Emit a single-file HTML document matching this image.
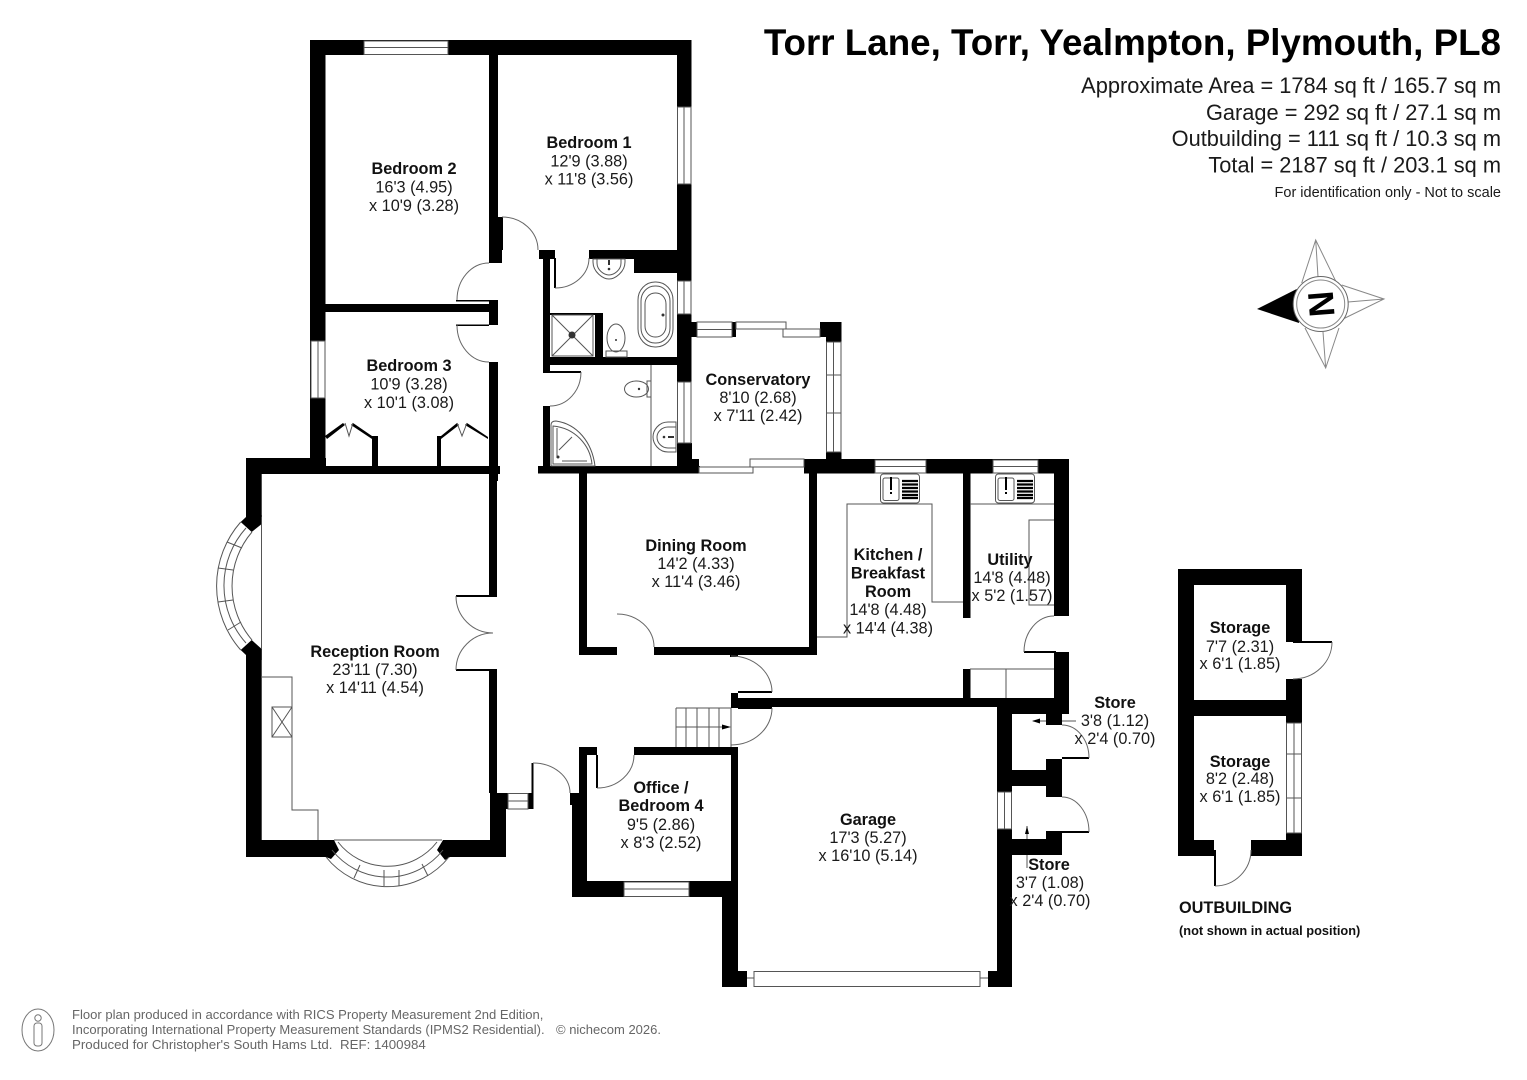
<!DOCTYPE html>
<html><head><meta charset="utf-8"><style>
html,body{margin:0;padding:0;background:#fff}
svg{display:block}
text{font-family:"Liberation Sans",sans-serif;fill:#1a1a1a;font-size:16.3px;text-anchor:middle}
.b{font-weight:bold;fill:#111}
.h{font-size:21.8px;text-anchor:end}
.f{font-size:13px;fill:#666;text-anchor:start}
.w{fill:#fff;stroke:#555;stroke-width:1}
.l{fill:none;stroke:#555;stroke-width:1}
.d{fill:none;stroke:#666;stroke-width:1}
</style></head><body>
<svg width="1527" height="1080" viewBox="0 0 1527 1080" xmlns="http://www.w3.org/2000/svg">
<rect width="1527" height="1080" fill="#fff"/>
<!-- walls -->
<g fill="#000">
<rect x="310" y="40" width="381" height="15"/>
<rect x="310" y="40" width="15.500" height="434"/>
<rect x="489" y="55" width="9" height="208"/>
<rect x="498" y="217" width="4" height="38"/>
<rect x="489" y="250" width="13" height="13"/>
<rect x="677" y="40" width="14.500" height="420"/>
<rect x="325" y="304" width="173" height="8"/>
<rect x="489" y="300" width="9" height="25"/>
<rect x="489" y="362" width="9" height="119"/>
<rect x="246" y="458" width="80" height="16"/>
<rect x="325" y="466" width="175" height="8"/>
<rect x="539" y="250" width="16" height="9"/>
<rect x="589" y="250" width="88" height="9"/>
<rect x="634" y="250" width="43" height="23"/>
<rect x="543" y="255" width="7" height="118"/>
<rect x="550" y="357" width="127" height="8"/>
<rect x="595" y="313" width="8" height="44"/>
<rect x="550" y="313" width="53" height="2"/>
<rect x="543" y="406" width="7" height="60"/>
<rect x="538" y="466" width="162" height="7.500"/>
<rect x="677" y="443" width="15" height="23"/>
<rect x="688" y="459" width="11" height="14"/>
<rect x="691" y="322" width="6" height="15"/>
<rect x="732" y="322" width="4" height="15"/>
<rect x="820" y="322" width="21.500" height="15"/>
<rect x="826" y="337" width="15.500" height="5"/>
<rect x="826" y="452" width="15.500" height="8"/>
<rect x="804" y="459" width="265" height="14.500"/>
<rect x="1054" y="459" width="15" height="157"/>
<rect x="963" y="473" width="7.500" height="145"/>
<rect x="809" y="473" width="8" height="182"/>
<rect x="579" y="473" width="8" height="182"/>
<rect x="579" y="647" width="38" height="8"/>
<rect x="654" y="647" width="163" height="8"/>
<rect x="730" y="647" width="8" height="10"/>
<rect x="1054" y="652" width="15" height="62"/>
<rect x="1024" y="651" width="32" height="2"/>
<rect x="963" y="669" width="7.500" height="30"/>
<rect x="733" y="698" width="264" height="9"/>
<rect x="997" y="698" width="72" height="16"/>
<rect x="997" y="698" width="15" height="289"/>
<rect x="1046" y="714" width="16" height="11"/>
<rect x="1046" y="759" width="16" height="38"/>
<rect x="1012" y="770" width="50" height="16"/>
<rect x="1046" y="831" width="16" height="24"/>
<rect x="1012" y="839" width="50" height="16"/>
<rect x="1062" y="757" width="27" height="2"/>
<rect x="1062" y="831" width="27" height="2"/>
<rect x="731" y="693" width="7" height="15"/>
<rect x="731" y="747" width="7" height="140"/>
<rect x="738" y="691" width="34" height="2"/>
<rect x="738" y="707" width="34" height="2"/>
<rect x="634" y="747" width="104" height="8"/>
<rect x="579" y="747" width="18" height="8"/>
<rect x="579" y="747" width="8" height="150"/>
<rect x="572" y="805" width="15" height="92"/>
<rect x="570" y="793" width="17" height="12"/>
<rect x="596" y="755" width="2" height="33"/>
<rect x="572" y="881" width="166" height="16"/>
<rect x="722" y="881" width="16" height="106"/>
<rect x="722" y="971" width="25" height="16"/>
<rect x="988" y="971" width="24" height="16"/>
<rect x="246" y="458" width="15.700" height="59"/>
<rect x="246" y="649" width="15.700" height="208"/>
<rect x="261" y="840" width="60" height="17"/>
<rect x="455" y="840" width="51" height="17"/>
<rect x="489" y="473" width="8" height="123"/>
<rect x="489" y="670" width="8" height="123"/>
<rect x="456" y="595" width="41" height="2"/>
<rect x="456" y="669" width="41" height="2"/>
<rect x="490" y="793" width="16" height="64"/>
<rect x="506" y="793" width="2" height="16"/>
<rect x="528" y="793" width="5" height="16"/>
<rect x="531.500" y="763" width="2" height="46"/>
<rect x="456" y="300" width="33" height="1.500"/>
<rect x="456" y="324.500" width="33" height="1.500"/>
<rect x="501" y="217" width="2" height="33"/>
<rect x="554" y="258" width="2" height="30"/>
<rect x="550" y="371" width="31" height="2"/>
<polygon points="246,515 261.700,515 261.700,524 251.700,532 240.700,522 246,517"/>
<polygon points="240.700,650 251.700,640 261.700,649 261.700,660 246,660 246,655"/>
<polygon points="310,840 334,840 339,850 331,859 326,857 310,857"/>
<polygon points="443,840 437,850 445,860 450,857 460,857 460,840"/>
<rect x="372" y="436" width="6" height="30"/>
<rect x="437" y="436" width="4" height="30"/>
<polygon points="325,436 343,423 345,425 327,439"/>
<polygon points="353,423 372,436 372,439 351,425"/>
<polygon points="441,436 457,423 459,425 441,439"/>
<polygon points="467,423 488,437 488,439 465,425"/>
<rect x="1178" y="569" width="124" height="16"/>
<rect x="1178" y="569" width="16" height="287"/>
<rect x="1286" y="569" width="16" height="73"/>
<rect x="1286" y="679" width="16" height="177"/>
<rect x="1194" y="700" width="108" height="16"/>
<rect x="1178" y="840" width="36" height="16"/>
<rect x="1251" y="840" width="51" height="16"/>
<rect x="1293" y="641" width="39" height="2"/>
<rect x="1214" y="850" width="2" height="36"/>
</g>
<!-- windows -->
<g class="w">
<rect x="364" y="41" width="84" height="13.500"/><path d="M364 47.500H448"/>
<rect x="677.500" y="107" width="13.500" height="77"/><path d="M684 107V184"/>
<rect x="677.500" y="281" width="13.500" height="33"/><path d="M684 281V314"/>
<rect x="677.500" y="382" width="13.500" height="61"/><path d="M684 382V443"/>
<rect x="311" y="341" width="14" height="57"/><path d="M318 341V398"/>
<rect x="697" y="322" width="35" height="15"/><path d="M697 329.500H732"/>
<rect x="736" y="322" width="50" height="7"/>
<rect x="783" y="329" width="37" height="8"/>
<rect x="826.500" y="342" width="14.500" height="110"/><path d="M833.500 342V452M826.500 375H841M826.500 413H841"/>
<rect x="699" y="467" width="54" height="6"/>
<rect x="750" y="459" width="54" height="8"/>
<rect x="875" y="460" width="51" height="13"/><path d="M875 466.500H926"/>
<rect x="993" y="460" width="45" height="13"/><path d="M993 466.500H1038"/>
<rect x="624" y="882" width="65" height="14.500"/><path d="M624 889H689"/>
<rect x="997.500" y="792" width="14" height="37"/><path d="M1004.500 792V829"/>
<rect x="754" y="971.500" width="226" height="15"/><path d="M747 978H754M980 978H988"/>
<rect x="508" y="793.500" width="20" height="15.500"/><path d="M508 801H528"/>
<rect x="1286.500" y="723" width="15" height="110"/><path d="M1294 723V833M1286.500 754H1301.500M1286.500 798H1301.500"/>
</g>
<!-- bays -->
<g class="l">
<path d="M240.700 522A97 97 0 0 0 240.700 650M246 528A86 86 0 0 0 246 643M252 532A83 83 0 0 0 252 640"/>
<path d="M261.500 524V649M227 542L242 548M218 568L233 570M218 602L233 600M228 630L241 622"/>
<path d="M326 857A78.600 78.600 0 0 0 449 857M332 850A70.500 70.500 0 0 0 443 850M338 842A62.600 62.600 0 0 0 437 842"/>
<path d="M334 840H442M360 865L354 878M384 870V886M399 870V886M422 864L428 876"/>
</g>
<!-- door arcs -->
<g class="d">
<path d="M502 217A36 33 0 0 1 538 250"/>
<path d="M489 263A32 37 0 0 0 457 300"/>
<path d="M457 325A32 37 0 0 0 489 362"/>
<path d="M589 258A34 30 0 0 1 555 288"/>
<path d="M581 372A31 34 0 0 1 550 406"/>
<path d="M456 596A37 37 0 0 0 493 633"/>
<path d="M456 670A37 37 0 0 1 493 633"/>
<path d="M617 614A37 33 0 0 1 654 647"/>
<path d="M731 656A41 36 0 0 1 772 692"/>
<path d="M772 708A41 37 0 0 1 731 745"/>
<path d="M597 788A37 33 0 0 0 634 755"/>
<path d="M533 763A37 30 0 0 1 570 793"/>
<path d="M1054 616A30 36 0 0 0 1024 652"/>
<path d="M1062 725A27 33 0 0 1 1089 758"/>
<path d="M1062 797A27 35 0 0 1 1089 832"/>
<path d="M1332 642A39 37 0 0 1 1293 679"/>
<path d="M1215 886A36 36 0 0 0 1251 850"/>
</g>
<!-- thin fit-out lines -->
<g class="l">
<path d="M651 365V466"/>
<path d="M817 637H847V504H932V602H963"/>
<path d="M970 504H1054M1054 520H1029V605H1054"/>
<path d="M970 669H1054M1006 669V698"/>
<path d="M261 677H292V810H318V840"/>
<rect x="272" y="707" width="20" height="30"/><path d="M272 707L292 737M292 707L272 737"/>
<path d="M345 423L349 436L353 423M457 423L462 436L467 423"/>
<!-- stairs -->
<path d="M676 708H731M676 747V708M686 708V747M697 708V747M709 708V747M719 708V747M731 708V747M676 727H722"/>
<!-- store arrows -->
<path d="M1062 721H1076M1033 721H1046M1027 826V839M1027 855V868"/>
</g>
<polygon points="722,724.500 731,727 722,729.500" fill="#000"/>
<polygon points="1032,718.500 1032,723.500 1040,721" fill="#000" transform="rotate(180 1036 721)"/>
<polygon points="1027,826 1025,834 1029,834" fill="#000"/>
<!-- bathroom fixtures -->
<g class="l">
<path d="M593 259H625V262C625 272 615 279 609 279C603 279 593 272 593 262Z"/>
<path d="M597 259V263C597 270 604 275 609 275C614 275 621 270 621 263V259"/>
<rect x="638" y="282" width="35" height="65" rx="17" ry="18"/>
<rect x="641" y="286" width="29" height="57" rx="14" ry="15"/>
<rect x="645" y="293" width="21" height="44" rx="10" ry="11"/>
<rect x="552" y="315" width="41" height="41"/>
<path d="M552 315L593 356M593 315L552 356"/>
<ellipse cx="616" cy="338" rx="9" ry="14"/>
<rect x="606" y="351" width="21" height="6"/>
<ellipse cx="636.500" cy="389" rx="12" ry="8"/>
<rect x="647" y="381" width="4" height="16"/>
<path d="M676 422V452H668C659 452 653 444 653 437C653 430 659 422 668 422Z"/>
<path d="M676 427H668C662 427 657 432 657 437C657 443 662 448 668 448H676"/>
<path d="M551 466V425C551 422 553 421 556 421C577 424 592 442 595 466Z"/>
<path d="M553 464V426C575 428 590 445 592 464Z"/>
<path d="M559 450L572 437"/>
<path d="M557 428V458M562 461H587"/>
</g>
<g fill="#333">
<circle cx="572" cy="335" r="3.500"/><circle cx="616" cy="340" r="1"/><circle cx="609" cy="269" r="1.300"/>
<rect x="608" y="260" width="2" height="5"/><circle cx="663" cy="315" r="1.500"/><circle cx="639" cy="389" r="1.200"/>
<circle cx="664" cy="437" r="1.300"/><rect x="668" y="436" width="6" height="2"/><circle cx="558" cy="457" r="1.500"/>
</g>
<!-- kitchen sinks -->
<g>
<rect x="880.500" y="474" width="39" height="29" rx="3" fill="#fff" stroke="#555"/>
<rect x="883" y="478" width="16" height="22.500" rx="2" fill="#fff" stroke="#555"/>
<rect x="890" y="477" width="2" height="13" fill="#000"/><rect x="890" y="492" width="2" height="2" fill="#000"/>
<path d="M902 481H918M902 484.500H918M902 488H918M902 491.500H918M902 495H918M902 498H918" stroke="#000" stroke-width="2.200"/>
<rect x="995.500" y="474" width="39" height="29" rx="3" fill="#fff" stroke="#555"/>
<rect x="998" y="478" width="16" height="22.500" rx="2" fill="#fff" stroke="#555"/>
<rect x="1005" y="477" width="2" height="13" fill="#000"/><rect x="1005" y="492" width="2" height="2" fill="#000"/>
<path d="M1017 481H1033M1017 484.500H1033M1017 488H1033M1017 491.500H1033M1017 495H1033M1017 498H1033" stroke="#000" stroke-width="2.200"/>
</g>
<!-- compass -->
<g>
<polygon points="1257,309 1299,323 1296.700,289" fill="#000"/>
<path d="M1301.700 283L1315.700 240L1336 281.700M1318 276.700L1315.700 240M1341.700 285L1384 299L1343 319M1348 302L1384 299M1305 328L1325.700 368L1339 328M1323 332L1325.700 368" fill="none" stroke="#888" stroke-width="1"/>
<circle cx="1320.700" cy="304" r="27.500" fill="#fff" stroke="#666" stroke-width="1"/>
<circle cx="1320.700" cy="304" r="24" fill="#fff" stroke="#888" stroke-width="1"/>
<text transform="translate(1320.700 304) rotate(-94.500)" y="13" class="b" style="font-size:36px;fill:#000">N</text>
</g>
<!-- header -->
<text x="1501" y="55" class="b" style="font-size:36.750px;text-anchor:end;fill:#000">Torr Lane, Torr, Yealmpton, Plymouth, PL8</text>
<text x="1501" y="93" class="h">Approximate Area = 1784 sq ft / 165.7 sq m</text>
<text x="1501" y="120" class="h">Garage = 292 sq ft / 27.1 sq m</text>
<text x="1501" y="146" class="h">Outbuilding = 111 sq ft / 10.3 sq m</text>
<text x="1501" y="172.500" class="h">Total = 2187 sq ft / 203.1 sq m</text>
<text x="1501" y="197" style="font-size:14.500px;text-anchor:end">For identification only - Not to scale</text>
<!-- rooms -->
<text x="589" y="148" class="b">Bedroom 1</text><text x="589" y="166.500">12'9 (3.88)</text><text x="589" y="184.500">x 11'8 (3.56)</text>
<text x="414" y="174" class="b">Bedroom 2</text><text x="414" y="192.500">16'3 (4.95)</text><text x="414" y="211">x 10'9 (3.28)</text>
<text x="409" y="371" class="b">Bedroom 3</text><text x="409" y="389.500">10'9 (3.28)</text><text x="409" y="408">x 10'1 (3.08)</text>
<text x="758" y="385" class="b">Conservatory</text><text x="758" y="403">8'10 (2.68)</text><text x="758" y="421">x 7'11 (2.42)</text>
<text x="375" y="657" class="b">Reception Room</text><text x="375" y="675">23'11 (7.30)</text><text x="375" y="693">x 14'11 (4.54)</text>
<text x="696" y="551" class="b">Dining Room</text><text x="696" y="569">14'2 (4.33)</text><text x="696" y="587">x 11'4 (3.46)</text>
<text x="888" y="560" class="b">Kitchen /</text><text x="888" y="578.500" class="b">Breakfast</text><text x="888" y="597" class="b">Room</text><text x="888" y="615">14'8 (4.48)</text><text x="888" y="633.500">x 14'4 (4.38)</text>
<text x="1010" y="565" class="b">Utility</text><text x="1012" y="583">14'8 (4.48)</text><text x="1012" y="601">x 5'2 (1.57)</text>
<text x="868" y="825" class="b">Garage</text><text x="868" y="843">17'3 (5.27)</text><text x="868" y="861">x 16'10 (5.14)</text>
<text x="661" y="793" class="b">Office /</text><text x="661" y="811" class="b">Bedroom 4</text><text x="661" y="830">9'5 (2.86)</text><text x="661" y="848">x 8'3 (2.52)</text>
<text x="1115" y="708" class="b">Store</text><text x="1115" y="726">3'8 (1.12)</text><text x="1115" y="744">x 2'4 (0.70)</text>
<text x="1049" y="870" class="b">Store</text><text x="1050" y="888">3'7 (1.08)</text><text x="1050" y="906">x 2'4 (0.70)</text>
<text x="1240" y="633" class="b">Storage</text><text x="1240" y="652">7'7 (2.31)</text><text x="1240" y="669">x 6'1 (1.85)</text>
<text x="1240" y="767" class="b">Storage</text><text x="1240" y="784">8'2 (2.48)</text><text x="1240" y="802">x 6'1 (1.85)</text>
<text x="1179" y="913" class="b" style="text-anchor:start">OUTBUILDING</text>
<text x="1179" y="935" class="b" style="text-anchor:start;font-size:12.800px">(not shown in actual position)</text>
<!-- footer -->
<ellipse cx="38" cy="1030" rx="16" ry="21" fill="none" stroke="#777"/>
<circle cx="38" cy="1018" r="3.200" fill="none" stroke="#777"/>
<rect x="34" y="1023" width="8" height="23" rx="3" fill="none" stroke="#777"/>
<text x="72" y="1019" class="f" style="font-size:13.050px">Floor plan produced in accordance with RICS Property Measurement 2nd Edition,</text>
<text x="72" y="1034" class="f">Incorporating International Property Measurement Standards (IPMS2 Residential).</text>
<text x="556" y="1034" class="f">© nichecom 2026.</text>
<text x="72" y="1049" class="f" style="font-size:13.300px">Produced for Christopher's South Hams Ltd.</text>
<text x="340" y="1049" class="f" style="font-size:13.300px">REF: 1400984</text>
</svg>
</body></html>
